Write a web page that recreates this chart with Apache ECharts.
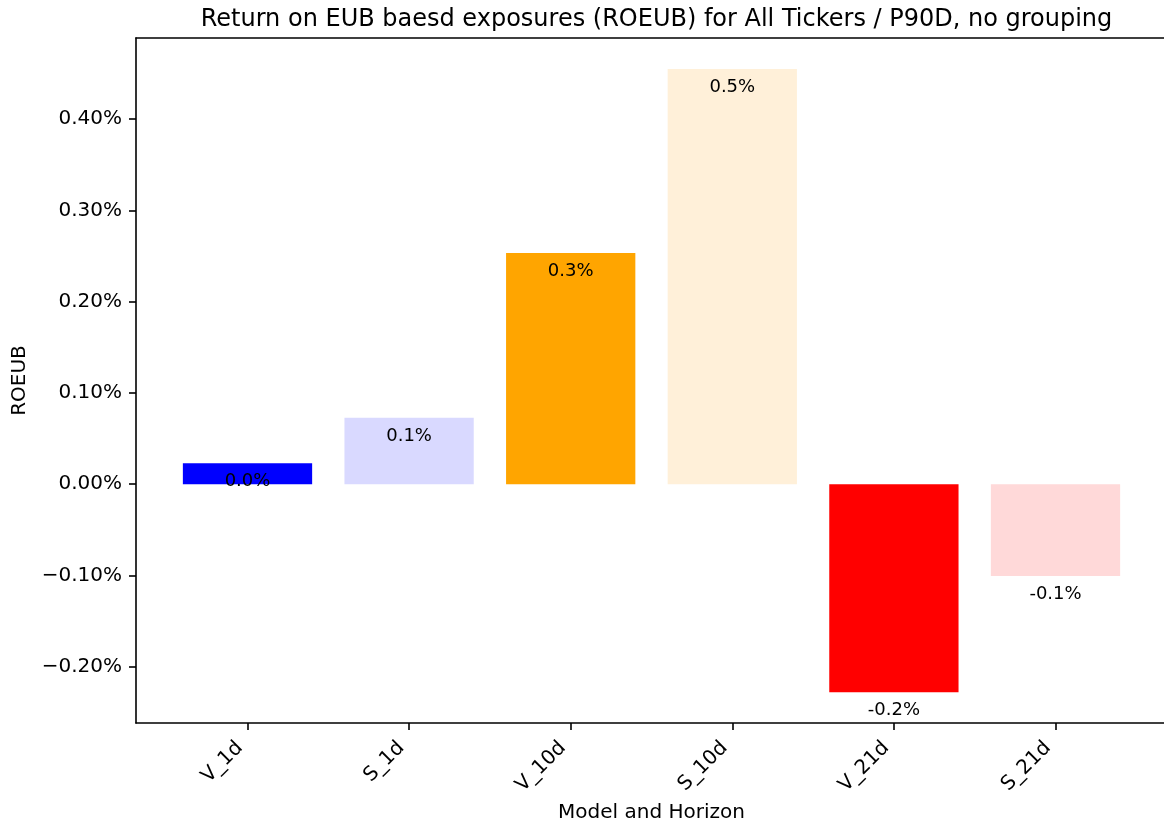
<!DOCTYPE html>
<html>
<head>
<meta charset="utf-8">
<script src="https://cdn.jsdelivr.net/npm/echarts@6/dist/echarts.min.js"></script>
<style>html,body{margin:0;padding:0;background:#fff;overflow:hidden;}#c{width:1164px;height:827px;}</style>
</head>
<body>
<div id="c"></div>
<script>
// Data (values in percent)
const categories = ['V_1d', 'S_1d', 'V_10d', 'S_10d', 'V_21d', 'S_21d'];
const values = [0.0230, 0.0727, 0.2532, 0.4548, -0.2279, -0.1005];
const barColors = ['#0000ff', '#d9d9ff', '#ffa500', '#fff0d9', '#ff0000', '#ffd9d9'];
const yTicks = [-0.2, -0.1, 0, 0.1, 0.2, 0.3, 0.4];
const xTicks = [0, 1, 2, 3, 4, 5];

const FONT = 'DejaVu Sans';
const gridLeft = 136, gridTop = 38, gridWidth = 1031, gridHeight = 685;
const xMin = -0.69, xMax = 5.69;
const yMin = -0.2616, yMax = 0.4888;
const barW = 0.8 * gridWidth / (xMax - xMin);

const chart = echarts.init(document.getElementById('c'), null, {renderer: 'canvas'});
chart.setOption({
  backgroundColor: '#fff',
  animation: false,
  title: {
    text: 'Return on EUB baesd exposures (ROEUB) for All Tickers / P90D, no grouping',
    left: gridLeft + gridWidth / 2,
    textAlign: 'center',
    top: 3,
    textStyle: {fontFamily: FONT, fontSize: 24, fontWeight: 'normal', color: '#000'}
  },
  grid: {
    left: gridLeft, top: gridTop, width: gridWidth, height: gridHeight,
    outerBoundsMode: 'none', containLabel: false, show: false
  },
  xAxis: [{
    type: 'value', min: xMin, max: xMax, position: 'bottom',
    name: 'Model and Horizon', nameLocation: 'middle', nameGap: 80,
    nameTextStyle: {fontFamily: FONT, fontSize: 20, color: '#000'},
    splitLine: {show: false},
    axisLine: {show: true, onZero: false, lineStyle: {color: '#000', width: 1.6}},
    axisTick: {show: true, length: 7, customValues: xTicks, lineStyle: {color: '#000', width: 1.6}},
    axisLabel: {
      customValues: xTicks, rotate: 45, margin: 14, padding: [0, 11, 0, 0],
      fontFamily: FONT, fontSize: 20, color: '#000',
      formatter: v => categories[Math.round(v)] || ''
    }
  }, {
    type: 'value', min: xMin, max: xMax, position: 'top',
    splitLine: {show: false},
    axisLine: {show: true, onZero: false, lineStyle: {color: '#000', width: 1.6}},
    axisTick: {show: false},
    axisLabel: {show: false}
  }],
  yAxis: {
    type: 'value', min: yMin, max: yMax,
    name: 'ROEUB', nameLocation: 'middle', nameGap: 106,
    nameTextStyle: {fontFamily: FONT, fontSize: 20, color: '#000'},
    splitLine: {show: false},
    axisLine: {show: true, onZero: false, lineStyle: {color: '#000', width: 1.6}},
    axisTick: {show: true, length: 7, customValues: yTicks, lineStyle: {color: '#000', width: 1.6}},
    axisLabel: {
      customValues: yTicks, margin: 14,
      fontFamily: FONT, fontSize: 20, color: '#000',
      formatter: v => (v < 0 ? '\u2212' : '') + Math.abs(v).toFixed(2) + '%'
    }
  },
  series: [
    {
      type: 'bar',
      barWidth: barW,
      silent: true,
      xAxisIndex: 0,
      data: values.map((v, i) => ({value: [i, v], itemStyle: {color: barColors[i]}}))
    },
    {
      type: 'scatter',
      symbolSize: 0,
      silent: true,
      xAxisIndex: 0,
      z: 5,
      itemStyle: {opacity: 1},
      data: values.map((v, i) => [i, v]),
      label: {
        show: true, position: 'inside', offset: [0, 18],
        fontFamily: FONT, fontSize: 18, color: '#000', opacity: 1,
        formatter: p => p.value[1].toFixed(1) + '%'
      }
    }
  ]
});
</script>
</body>
</html>
